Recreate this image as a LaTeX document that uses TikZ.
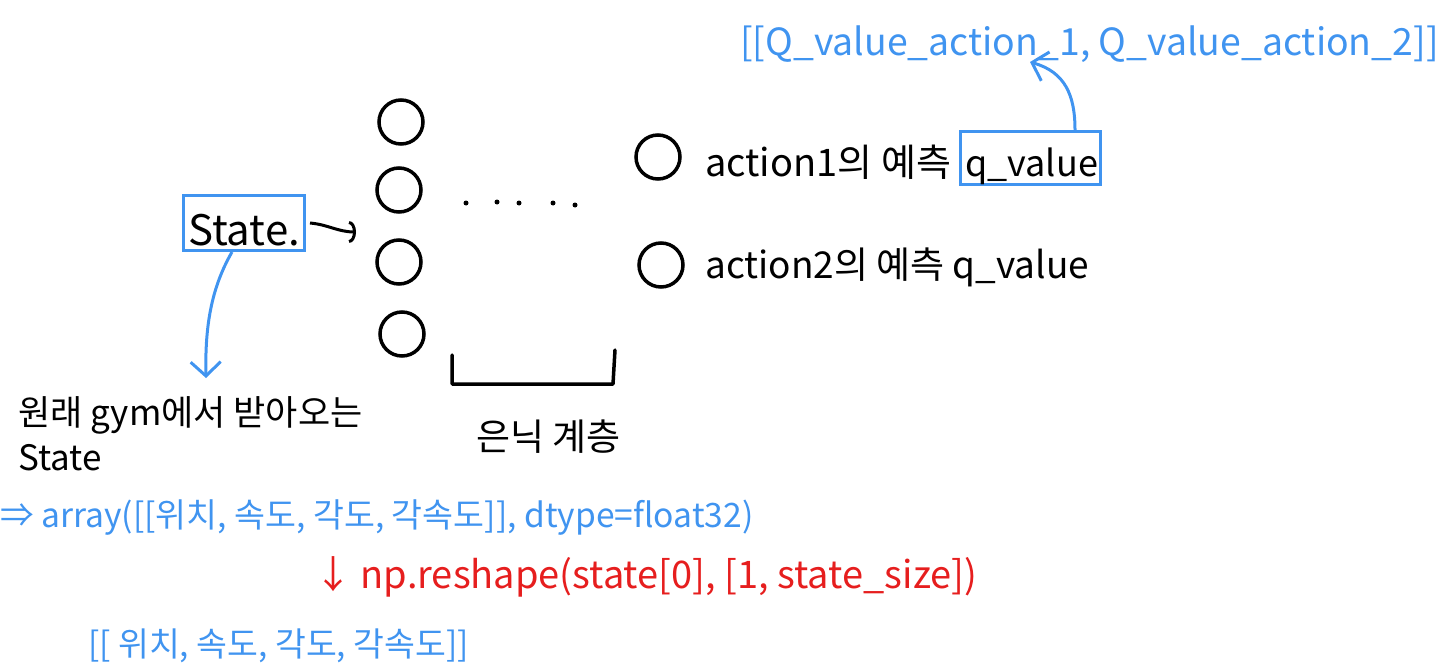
\documentclass[tikz,border=0pt]{standalone}
\usepackage{fontspec}
\setmainfont{Noto Sans CJK KR}
\usetikzlibrary{arrows.meta}
\definecolor{hblue}{RGB}{64,148,240}
\definecolor{hred}{RGB}{230,30,30}
\begin{document}
\begin{tikzpicture}[x=1pt,y=-1pt,
  neuron/.style={circle,draw=black,line width=3.5pt,minimum size=44pt,inner sep=0pt},
  bluebox/.style={draw=hblue,line width=3pt,inner sep=0pt},
  txt/.style={font=\fontsize{37}{44}\selectfont,inner sep=0pt,anchor=base west},
  dot/.style={circle,fill=black,inner sep=0pt,minimum size=5pt},
  bluearrow/.style={draw=hblue,line width=3pt,-{Straight Barb[length=14pt,width=30pt,line width=3pt]}},
  blackarrow/.style={draw=black,line width=3pt,-{Arc Barb[length=7pt,width=22pt,line width=3pt]}}
]
\useasboundingbox (0,0) rectangle (1440,666);
% input layer
\node[neuron] (in1) at (401,122) {};
\node[neuron] (in2) at (399,190) {};
\node[neuron] (in3) at (399,262) {};
\node[neuron] (in4) at (402,334) {};
% dots
\foreach \x/\y [count=\i] in {466/203,497/202,519/203,553/203,575/205}
  \node[dot] (d\i) at (\x,\y) {};
% hidden bracket
\draw[line width=3.5pt,line join=round,line cap=round] (452,355) -- (452,384) -- (613,384) -- (615,350);
\node[txt] (hid) at (476,450) {은닉 계층};
% output layer
\node[neuron] (out1) at (658,157) {};
\node[neuron] (out2) at (661,265) {};
% state box
\node[bluebox,minimum width=121pt,minimum height=55pt] (state) at (244,223) {};
\node[txt,font=\fontsize{42}{44}\selectfont] (statetxt) at (188,245) {State.};
\coordinate (sa) at (356,232);
\draw[blackarrow] ([xshift=4pt]state.east) to[out=-5,in=180] (sa);
% description
\coordinate (sd) at (206,378);
\draw[bluearrow] ([xshift=-12pt]state.south) .. controls (210,290) and (205,330) .. (sd);
\node[txt,font=\fontsize{35}{45}\selectfont,align=left,anchor=north west] (orig) at (18,396) {원래 gym에서 받아오는\\State};
\node[txt,font=\fontsize{33.6}{40}\selectfont,text=hblue] (arr) at (0,527) {⇒ array([[위치, 속도, 각도, 각속도]], dtype=float32)};
\node[txt,font=\fontsize{38}{44}\selectfont,text=hred] (resh) at (314,588) {↓ np.reshape(state[0], [1, state\_size])};
\node[txt,font=\fontsize{33.5}{40}\selectfont,text=hblue] (res) at (88,656) {[[ 위치, 속도, 각도, 각속도]]};
% output labels
\node[txt,font=\fontsize{38}{44}\selectfont] (a1) at (705,176) {action1의 예측};
\node[bluebox,minimum width=140pt,minimum height=53pt] (qbox) at (1030,158) {};
\node[txt,font=\fontsize{36}{44}\selectfont] (q1) at (965,176) {q\_value};
\node[txt] (a2) at (705,278) {action2의 예측 q\_value};
\node[txt,font=\fontsize{37.4}{44}\selectfont,text=hblue] (top) at (740,56) {[[Q\_value\_action\_1, Q\_value\_action\_2]]};
\coordinate (qt) at (1030,62);
\draw[bluearrow] ([xshift=45pt]qbox.north) .. controls (1075,95) and (1065,72) .. (qt);
\end{tikzpicture}
\end{document}
